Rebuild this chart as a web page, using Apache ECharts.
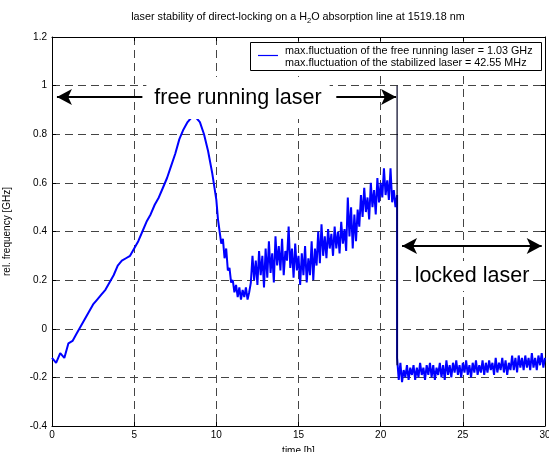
<!DOCTYPE html>
<html>
<head>
<meta charset="utf-8">
<script src="https://cdn.jsdelivr.net/npm/echarts@6/dist/echarts.min.js"></script>
<style>html,body{margin:0;padding:0;background:#fff}#c{width:549px;height:452px}</style>
</head>
<body>
<div id="c"></div>
<script>
// ---- data ----
const xTicks = [0, 5, 10, 15, 20, 25, 30];
const yTicks = [-0.4, -0.2, 0, 0.2, 0.4, 0.6, 0.8, 1, 1.2];

// free running, slow part: t = 0 .. 10 h, every 0.25 h
const freeSlowStart = 0, freeSlowStep = 0.25;
const freeSlow = [-0.12, -0.14, -0.10, -0.12, -0.06, -0.05, -0.02, 0.01, 0.04, 0.07,
  0.10, 0.12, 0.14, 0.16, 0.19, 0.22, 0.26, 0.28, 0.29, 0.30,
  0.33, 0.36, 0.40, 0.44, 0.47, 0.51, 0.54, 0.58, 0.62, 0.67,
  0.72, 0.78, 0.82, 0.85, 0.87, 0.87, 0.85, 0.80, 0.73, 0.64, 0.53];

// free running, noisy part: t = 10.1 .. 21.0 h, every 0.1 h
const freeNoisyStart = 10.1, freeNoisyStep = 0.1;
const freeNoisy = [0.45, 0.40, 0.35, 0.37, 0.29, 0.33, 0.24, 0.25, 0.19, 0.20,
  0.15, 0.18, 0.13, 0.17, 0.12, 0.16, 0.13, 0.17, 0.12, 0.15,
  0.19, 0.30, 0.20, 0.28, 0.18, 0.32, 0.22, 0.30, 0.17, 0.33,
  0.21, 0.36, 0.23, 0.31, 0.19, 0.38, 0.26, 0.34, 0.24, 0.37,
  0.22, 0.32, 0.28, 0.42, 0.25, 0.33, 0.21, 0.35, 0.24, 0.30,
  0.18, 0.31, 0.22, 0.34, 0.19, 0.29, 0.22, 0.36, 0.20, 0.33,
  0.26, 0.40, 0.27, 0.43, 0.30, 0.38, 0.29, 0.41, 0.33, 0.39,
  0.30, 0.42, 0.33, 0.40, 0.31, 0.44, 0.35, 0.41, 0.32, 0.54,
  0.38, 0.50, 0.33, 0.47, 0.36, 0.49, 0.42, 0.55, 0.46, 0.58,
  0.48, 0.54, 0.45, 0.60, 0.50, 0.57, 0.47, 0.62, 0.52, 0.60,
  0.54, 0.66, 0.55, 0.61, 0.53, 0.66, 0.52, 0.57, 0.50, 0.55];

// locked laser: t = 21.0 .. 30.0 h, every 0.1 h
const lockedStart = 21.0, lockedStep = 0.1;
const locked = [-0.12, -0.21, -0.14, -0.22, -0.17, -0.20, -0.15, -0.21, -0.16, -0.19,
  -0.15, -0.21, -0.16, -0.20, -0.14, -0.19, -0.16, -0.21, -0.15, -0.19,
  -0.14, -0.20, -0.15, -0.21, -0.16, -0.19, -0.14, -0.20, -0.15, -0.21,
  -0.13, -0.19, -0.15, -0.20, -0.14, -0.18, -0.13, -0.19, -0.15, -0.20,
  -0.14, -0.18, -0.13, -0.19, -0.15, -0.20, -0.14, -0.18, -0.13, -0.19,
  -0.15, -0.18, -0.13, -0.19, -0.14, -0.18, -0.13, -0.17, -0.14, -0.19,
  -0.12, -0.18, -0.14, -0.17, -0.12, -0.18, -0.13, -0.19, -0.14, -0.17,
  -0.11, -0.17, -0.12, -0.18, -0.11, -0.16, -0.12, -0.17, -0.11, -0.16,
  -0.12, -0.17, -0.10, -0.16, -0.12, -0.17, -0.11, -0.15, -0.10, -0.16, -0.12];

const lockLine = [[21, 1.0], [21, -0.15]];

const legendLines = ['max.fluctuation of the free running laser = 1.03 GHz',
                     'max.fluctuation of the stabilized laser = 42.55 MHz'];

// ---- build ----
function toPairs(start, step, arr) {
  return arr.map((v, i) => [Math.round((start + i * step) * 1000) / 1000, v]);
}
const seriesData = toPairs(freeSlowStart, freeSlowStep, freeSlow)
  .concat(toPairs(freeNoisyStart, freeNoisyStep, freeNoisy))
  .concat(toPairs(lockedStart, lockedStep, locked));

const FONT = 'Liberation Sans, Arial, Helvetica, sans-serif';
const gridStyle = { show: true, lineStyle: { color: '#444', type: [8, 5], width: 1 } };

const chart = echarts.init(document.getElementById('c'), null, { renderer: 'canvas' });
const option = {
  animation: false,
  backgroundColor: '#fff',
  textStyle: { fontFamily: FONT },
  grid: { left: 52, right: 4, top: 37, bottom: 26, containLabel: false, outerBoundsMode: 'none' },
  xAxis: [{
    type: 'value', min: 0, max: 30, interval: 5,
    name: 'time [h]', nameLocation: 'middle', nameGap: 20,
    nameTextStyle: { fontSize: 10, color: '#000', fontFamily: FONT },
    axisLine: { show: true, onZero: false, lineStyle: { color: '#000', width: 1 } },
    axisTick: { show: true, inside: true, length: 4, lineStyle: { color: '#000' } },
    axisLabel: { fontSize: 10, color: '#000', margin: 4, fontFamily: FONT },
    splitLine: gridStyle
  }, {
    type: 'value', min: 0, max: 30, interval: 5, position: 'top',
    axisLine: { show: true, onZero: false, lineStyle: { color: '#000', width: 1 } },
    axisTick: { show: true, inside: true, length: 4, lineStyle: { color: '#000' } },
    axisLabel: { show: false }, splitLine: { show: false }
  }],
  yAxis: [{
    type: 'value', min: -0.4, max: 1.2, interval: 0.2,
    name: 'rel. frequency [GHz]', nameLocation: 'middle', nameGap: 40,
    nameTextStyle: { fontSize: 10, color: '#000', fontFamily: FONT },
    axisLine: { show: true, onZero: false, lineStyle: { color: '#000', width: 1 } },
    axisTick: { show: true, inside: true, length: 4, lineStyle: { color: '#000' } },
    axisLabel: { fontSize: 10, color: '#000', margin: 5, fontFamily: FONT },
    splitLine: gridStyle
  }, {
    type: 'value', min: -0.4, max: 1.2, interval: 0.2, position: 'right',
    axisLine: { show: true, onZero: false, lineStyle: { color: '#000', width: 1 } },
    axisTick: { show: true, inside: true, length: 4, lineStyle: { color: '#000' } },
    axisLabel: { show: false }, splitLine: { show: false }
  }],
  series: [{
    type: 'line', name: 'laser', data: seriesData, showSymbol: false,
    lineStyle: { color: '#0000ff', width: 2 }, z: 3
  }, {
    type: 'line', name: 'lock', data: lockLine, showSymbol: false,
    lineStyle: { color: '#000022', width: 1.2 }, z: 4,
    markLine: {
      silent: true, animation: false, symbolSize: [12, 15],
      label: { show: false },
      lineStyle: { color: '#000', width: 2, type: 'solid' },
      data: [
        [{ coord: [0.3, 0.953], symbol: 'arrow' }, { coord: [5.5, 0.953], symbol: 'none' }],
        [{ coord: [17.3, 0.953], symbol: 'none' }, { coord: [20.94, 0.953], symbol: 'arrow' }],
        [{ coord: [21.3, 0.34], symbol: 'arrow' }, { coord: [29.8, 0.34], symbol: 'arrow' }]
      ]
    }
  }],
  graphic: [
    {
      type: 'text', x: 298, y: 17, z: 100,
      style: {
        text: '{a|laser stability of direct-locking on a H}{s|2}{a|O absorption line at 1519.18 nm}',
        align: 'center', verticalAlign: 'middle', fill: '#000',
        rich: {
          a: { fontSize: 10.8, fontFamily: FONT, fill: '#000' },
          s: { fontSize: 7.5, fontFamily: FONT, fill: '#000', padding: [7, 0, 0, 0] }
        }
      }
    },
    {
      type: 'text', x: 238, y: 98, z: 100,
      style: {
        text: 'free running laser', align: 'center', verticalAlign: 'middle',
        fontSize: 21.5, fontFamily: FONT, fill: '#000',
        backgroundColor: '#fff', padding: [10, 8, 10, 8]
      }
    },
    {
      type: 'text', x: 472, y: 276, z: 100,
      style: {
        text: 'locked laser', align: 'center', verticalAlign: 'middle',
        fontSize: 21.5, fontFamily: FONT, fill: '#000',
        backgroundColor: '#fff', padding: [4, 3, 4, 3]
      }
    },
    {
      type: 'rect', z: 100, shape: { x: 250.5, y: 42.5, width: 291, height: 28 },
      style: { fill: '#fff', stroke: '#000', lineWidth: 1 }
    },
    {
      type: 'line', z: 101, shape: { x1: 258, y1: 55.5, x2: 278, y2: 55.5 },
      style: { stroke: '#0000ff', lineWidth: 1.2 }
    },
    {
      type: 'text', x: 285, y: 51, z: 101,
      style: { text: legendLines[0], verticalAlign: 'middle', fontSize: 10.8, fontFamily: FONT, fill: '#000' }
    },
    {
      type: 'text', x: 285, y: 63.5, z: 101,
      style: { text: legendLines[1], verticalAlign: 'middle', fontSize: 10.8, fontFamily: FONT, fill: '#000' }
    }
  ]
};
chart.setOption(option);
</script>
</body>
</html>
